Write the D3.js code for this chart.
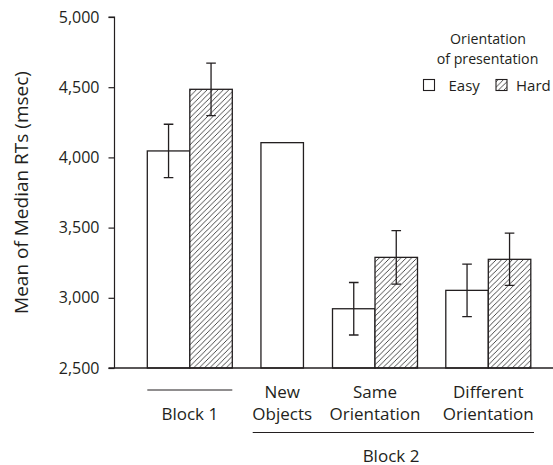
<!DOCTYPE html>
<html>
<head>
<meta charset="utf-8">
<script src="https://cdn.jsdelivr.net/npm/d3@7"></script>
<style>
  html, body { margin: 0; padding: 0; background: #fff; }
  svg { display: block; font-family: "Open Sans", "Noto Sans", sans-serif; }
</style>
</head>
<body>
<svg id="chart" width="553" height="465"></svg>
<script>
// ---- data ----
const groups = ["Block 1", "New Objects", "Same Orientation", "Different Orientation"];
const groupLabelLines = [["", "Block 1"], ["New", "Objects"], ["Same", "Orientation"], ["Different", "Orientation"]];
const easyValues = [4046, 4105, 2922, 3053];
const easyErrors = [190, null, 187, 187];
const hardValues = [4485, null, 3288, 3274];
const hardErrors = [187, null, 190, 186];
const yTicks = [2500, 3000, 3500, 4000, 4500, 5000];
const yLabel = "Mean of Median RTs (msec)";
const legendTitle = ["Orientation", "of presentation"];
const seriesNames = ["Easy", "Hard"];
const block2Label = "Block 2";

// ---- layout ----
const svg = d3.select("#chart");
const axisX = 114.5;
const y = d3.scaleLinear().domain([2500, 5000]).range([368, 17]);
const x = d3.scaleOrdinal().domain(groups).range([189.8, 282.2, 375, 488.3]);
const bw = 42.5;
const ink = "#231f20";

const defs = svg.append("defs");
const hw = 5.4;
const pat = defs.append("pattern")
  .attr("id", "hatch").attr("patternUnits", "userSpaceOnUse")
  .attr("width", hw).attr("height", hw);
pat.append("rect").attr("width", hw).attr("height", hw).attr("fill", "#fff");
pat.append("path")
  .attr("d", `M0,${hw} L${hw},0 M${-1},1 L1,${-1} M${hw - 1},${hw + 1} L${hw + 1},${hw - 1}`)
  .attr("stroke", "#333").attr("stroke-width", 0.9);

// y axis
const yAxis = d3.axisLeft(y).tickValues(yTicks).tickFormat(d3.format(",")).tickSize(6).tickPadding(9);
const gy = svg.append("g").attr("transform", `translate(${axisX},0)`).call(yAxis);
gy.select(".domain").attr("stroke", ink).attr("stroke-width", 1.2).attr("d", `M-6,${y(5000)}H0V${y(2500)}`);
gy.selectAll(".tick line").attr("stroke", ink).attr("stroke-width", 1.2);
gy.selectAll(".tick text").attr("fill", ink).style("font-size", "16px").style("font-family", "Open Sans");

// bars
const rows = groups.map((g, i) => ({ g, i }));
const single = i => hardValues[i] === null;
const easyX = i => single(i) ? x(groups[i]) - bw / 2 : x(groups[i]) - bw;

svg.append("g").selectAll("rect.easy").data(rows).join("rect")
  .attr("x", d => easyX(d.i))
  .attr("y", d => y(easyValues[d.i]))
  .attr("width", bw)
  .attr("height", d => y(2500) - y(easyValues[d.i]))
  .attr("fill", "#fff").attr("stroke", ink).attr("stroke-width", 1.3);

const hardRows = rows.filter(d => !single(d.i));
svg.append("g").selectAll("rect.hard").data(hardRows).join("rect")
  .attr("x", d => x(d.g))
  .attr("y", d => y(hardValues[d.i]))
  .attr("width", bw)
  .attr("height", d => y(2500) - y(hardValues[d.i]))
  .attr("fill", "url(#hatch)").attr("stroke", ink).attr("stroke-width", 1.3);

// error bars
const errs = [];
rows.forEach(d => {
  if (easyErrors[d.i] !== null) errs.push({ cx: easyX(d.i) + bw / 2, v: easyValues[d.i], e: easyErrors[d.i] });
  if (!single(d.i)) errs.push({ cx: x(d.g) + bw / 2, v: hardValues[d.i], e: hardErrors[d.i] });
});
const cap = 4.8;
svg.append("g").selectAll("path.err").data(errs).join("path")
  .attr("d", d => `M${d.cx},${y(d.v + d.e)}V${y(d.v - d.e)}M${d.cx - cap},${y(d.v + d.e)}H${d.cx + cap}M${d.cx - cap},${y(d.v - d.e)}H${d.cx + cap}`)
  .attr("fill", "none").attr("stroke", ink).attr("stroke-width", 1.3);

// x baseline
svg.append("line").attr("x1", axisX - 6).attr("x2", 553).attr("y1", y(2500)).attr("y2", y(2500))
  .attr("stroke", ink).attr("stroke-width", 1.3);

// category labels
const labelG = svg.append("g").attr("fill", ink).style("font-size", "17px").attr("text-anchor", "middle");
rows.forEach(d => {
  const lines = groupLabelLines[d.i];
  lines.forEach((t, k) => {
    if (t) labelG.append("text").attr("x", x(d.g)).attr("y", 397.5 + k * 22).text(t);
  });
});
// Block 1 line
svg.append("line").attr("x1", easyX(0)).attr("x2", x(groups[0]) + bw).attr("y1", 390).attr("y2", 390)
  .attr("stroke", ink).attr("stroke-width", 1.2);
// Block 2 line
svg.append("line").attr("x1", 252.7).attr("x2", 534).attr("y1", 432.5).attr("y2", 432.5)
  .attr("stroke", ink).attr("stroke-width", 1.2);
svg.append("text").attr("x", 391).attr("y", 461.5).attr("text-anchor", "middle")
  .attr("fill", ink).style("font-size", "17px").text(block2Label);

// y label
svg.append("text").attr("transform", `translate(28,${(y(2500) + y(5000)) / 2}) rotate(-90)`)
  .attr("text-anchor", "middle").attr("fill", ink).style("font-size", "19px").text(yLabel);

// legend
const lg = svg.append("g").attr("fill", ink).style("font-size", "15px");
lg.append("text").attr("x", 488).attr("y", 44).attr("text-anchor", "middle").style("font-size", "14.2px").text(legendTitle[0]);
lg.append("text").attr("x", 487.5).attr("y", 63.5).attr("text-anchor", "middle").style("font-size", "14.2px").text(legendTitle[1]);
const legendItems = [{ name: seriesNames[0], fill: "#fff", bx: 423.5, tx: 448.5 }, { name: seriesNames[1], fill: "url(#hatch)", bx: 496, tx: 516 }];
legendItems.forEach(it => {
  lg.append("rect").attr("x", it.bx).attr("y", 79.5).attr("width", 11).attr("height", 11)
    .attr("fill", it.fill).attr("stroke", ink).attr("stroke-width", 1.1);
  lg.append("text").attr("x", it.tx).attr("y", 91).text(it.name);
});
</script>
</body>
</html>
